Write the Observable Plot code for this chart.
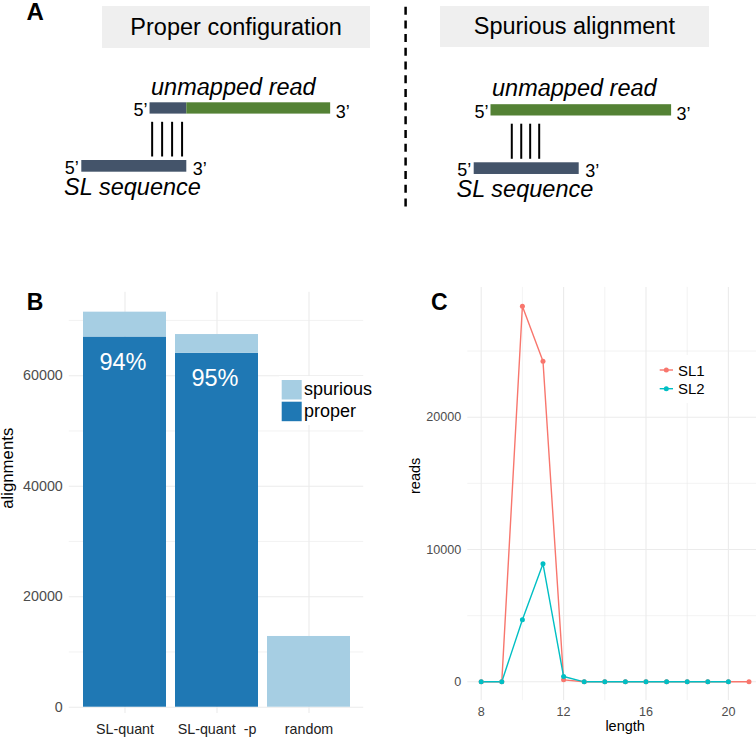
<!DOCTYPE html>
<html><head><meta charset="utf-8">
<script src="https://cdn.jsdelivr.net/npm/d3@7"></script>
<script src="https://cdn.jsdelivr.net/npm/@observablehq/plot@0.6"></script>
<style>
body{margin:0;background:#fff;}
#fig{position:relative;width:756px;height:737px;overflow:hidden;font-family:"Liberation Sans",Arial,Helvetica,sans-serif;background:#fff}
.abs{position:absolute}
.hdr{position:absolute;background:#efefef;display:flex;align-items:center;justify-content:center;font-size:23.5px;color:#000;white-space:nowrap}
</style></head>
<body><div id="fig"></div>
<script>
// ---------- Panel A: schematic (positions in SL-sequence units, SL = 0..10) ----------
const configTitles = ["Proper configuration", "Spurious alignment"];
const slLength = 10;
const readStart = [6.5, 1.6];
const readSLPartEnd = [10, null];
const readEnd = [23.7, 18.8];
const pairingProper = [6.7, 7.65, 8.6, 9.55];
const pairingSpurious = [3.58, 4.48, 5.33, 6.19];

// ---------- Panel B ----------
const methods = ["SL-quant", "SL-quant\u00a0\u00a0-p", "random"];
const properCounts = [67000, 64070, 0];
const spuriousCounts = [4500, 3380, 12800];
const alignTypes = ["spurious", "proper"];
const bTicks = [0, 20000, 40000, 60000];
const bMinor = [10000, 30000, 50000, 70000];

// ---------- Panel C ----------
const sl1Lengths = [8, 9, 10, 11, 12, 13, 14, 15, 16, 17, 18, 19, 20, 21];
const sl1Reads = [0, 0, 28390, 24230, 150, 0, 0, 0, 0, 0, 0, 0, 0, 0];
const sl2Lengths = [8, 9, 10, 11, 12, 13, 14, 15, 16, 17, 18, 19, 20];
const sl2Reads = [0, 0, 4690, 8920, 400, 0, 0, 0, 0, 0, 0, 0, 0];
const seriesNames = ["SL1", "SL2"];
const cYTicks = [0, 10000, 20000];
const cYMinor = [5000, 15000, 25000];
const cXTicks = [8, 12, 16, 20];
const cXMinor = [10, 14, 18];

const FONT = '"Liberation Sans", Arial, Helvetica, sans-serif';
const SLATE = "#44546a", GREEN = "#548235";
const fig = document.getElementById("fig");

function place(node, left, top) {
  const d = document.createElement("div");
  d.className = "abs";
  d.style.left = left + "px"; d.style.top = top + "px";
  d.appendChild(node);
  fig.appendChild(d);
  return d;
}

// ---------- Panel A ----------
const hdrBoxes = [[102.3, 6, 267.7, 42.3], [439.7, 6, 269.3, 41]];
configTitles.forEach((t, i) => {
  const h = document.createElement("div");
  h.className = "hdr";
  const [l, tp, w, ht] = hdrBoxes[i];
  h.style.left = l + "px"; h.style.top = tp + "px"; h.style.width = w + "px"; h.style.height = ht + "px";
  h.textContent = t;
  fig.appendChild(h);
});

function schematic(i) {
  const unit = 10.5;
  const slPx = [81.3, 95.7][i];
  const off = [0, 1.9][i];
  const x0 = -slPx / unit;
  const segs = [];
  if (readSLPartEnd[i] != null) {
    segs.push({start: readStart[i], end: readSLPartEnd[i], kind: "sl"});
    segs.push({start: readSLPartEnd[i], end: readEnd[i], kind: "read"});
  } else {
    segs.push({start: readStart[i], end: readEnd[i], kind: "read"});
  }
  const pairs = i === 0 ? pairingProper : pairingSpurious;
  const rt = 102.3 + off, rb = 113.6 + off;
  const st = 160 + off * 1.2, sb = 171.7 + off * 1.2;
  const sl = [{start: 0, end: slLength}];
  return Plot.plot({
    width: 378, height: 210, margin: 0,
    style: {fontFamily: FONT, overflow: "visible", background: "transparent"},
    x: {domain: [x0, x0 + 378 / unit], axis: null},
    y: {domain: [210, 0], axis: null},
    marks: [
      Plot.rect(segs, {x1: "start", x2: "end", y1: () => rt, y2: () => rb, fill: d => d.kind === "sl" ? SLATE : GREEN}),
      Plot.rect(sl, {x1: "start", x2: "end", y1: () => st, y2: () => sb, fill: SLATE}),
      Plot.ruleX(pairs, {x: d => d, y1: () => rb + 8.2, y2: () => st - 3.5, stroke: "#000", strokeWidth: 2}),
      Plot.text([readStart[i]], {x: d => d, y: () => rb + 2, text: () => "5\u2019", textAnchor: "end", dx: -2.5, lineAnchor: "bottom", fontSize: 18, fill: "#000"}),
      Plot.text([readEnd[i]], {x: d => d, y: () => rb + 4, text: () => "3\u2019", textAnchor: "start", dx: 5, lineAnchor: "bottom", fontSize: 18, fill: "#000"}),
      Plot.text(sl, {x: "start", y: () => sb + 1.5, text: () => "5\u2019", textAnchor: "end", dx: -3, lineAnchor: "bottom", fontSize: 18, fill: "#000"}),
      Plot.text(sl, {x: "end", y: () => sb + 3, text: () => "3\u2019", textAnchor: "start", dx: 6, lineAnchor: "bottom", fontSize: 18, fill: "#000"}),
      Plot.text([readStart[i]], {x: d => d, y: () => 94 + off, text: () => "unmapped read", textAnchor: "start", dx: 1, lineAnchor: "bottom", fontSize: 23.5, fontStyle: "italic", fill: "#000"}),
      Plot.text(sl, {x: "start", y: () => 194.5 + off, text: () => "SL sequence", textAnchor: "start", dx: -17.7, lineAnchor: "bottom", fontSize: 23.5, fontStyle: "italic", fill: "#000"})
    ]
  });
}
place(schematic(0), 0, 0);
place(schematic(1), 378, 0);

// ---------- Panel B ----------
const bRows = methods.flatMap((m, i) => [
  {method: m, type: "proper", value: properCounts[i]},
  {method: m, type: "spurious", value: spuriousCounts[i]}
]);
const pctRows = methods.map((m, i) => ({method: m, proper: properCounts[i], pct: Math.round(100 * properCounts[i] / (properCounts[i] + spuriousCounts[i])) + "%"}))
  .filter(d => d.proper > 0);

const plotB = Plot.plot({
  width: 378, height: 457,
  marginLeft: 68.8, marginRight: 14.8, marginTop: 11.7, marginBottom: 24,
  style: {fontFamily: FONT, overflow: "visible", background: "transparent"},
  x: {domain: methods, paddingInner: 0.1, paddingOuter: 0.15, axis: null},
  y: {domain: [-1140, 75113], axis: null},
  color: {domain: alignTypes, range: ["#a6cee3", "#1f78b4"]},
  marks: [
    Plot.ruleY(bMinor, {stroke: "#ebebeb", strokeWidth: 0.6}),
    Plot.ruleY(bTicks, {stroke: "#ebebeb", strokeWidth: 1.1}),
    Plot.ruleX(methods, {x: d => d, stroke: "#ebebeb", strokeWidth: 1.1}),
    Plot.barY(bRows, {x: "method", y: "value", fill: "type"}),
    Plot.text(pctRows, {x: "method", y: "proper", text: "pct", dy: 25.5, dx: -2, lineAnchor: "middle", fill: "white", fontSize: 23.5}),
    Plot.axisY({ticks: bTicks, tickSize: 0, tickPadding: 6.5, fontSize: 14.3, tickFormat: "d", color: "#4d4d4d", label: null}),
    Plot.axisX({tickSize: 0, tickPadding: 10.8, fontSize: 14.3, color: "#222", label: null}),
    Plot.text(["alignments"], {frameAnchor: "left", rotate: -90, dx: -61.3, dy: 6, fontSize: 16.8, fill: "#000", text: d => d})
  ]
});
place(plotB, 0, 280);

// ---------- Panel C ----------
const cRows = [
  ...sl1Lengths.map((l, i) => ({series: seriesNames[0], length: l, reads: sl1Reads[i]})),
  ...sl2Lengths.map((l, i) => ({series: seriesNames[1], length: l, reads: sl2Reads[i]}))
];
const plotC = Plot.plot({
  width: 378, height: 457,
  marginLeft: 89.3, marginRight: 0, marginTop: 6.9, marginBottom: 36.9,
  style: {fontFamily: FONT, overflow: "visible", background: "transparent"},
  x: {domain: [7.35, 21.364], axis: null},
  y: {domain: [-1420, 29810], axis: null},
  color: {domain: seriesNames, range: ["#F8766D", "#00BFC4"]},
  marks: [
    Plot.ruleY(cYMinor, {stroke: "#ebebeb", strokeWidth: 0.6}),
    Plot.ruleX(cXMinor, {stroke: "#ebebeb", strokeWidth: 0.6}),
    Plot.ruleY(cYTicks, {stroke: "#ebebeb", strokeWidth: 1.1}),
    Plot.ruleX(cXTicks, {stroke: "#ebebeb", strokeWidth: 1.1}),
    Plot.line(cRows, {x: "length", y: "reads", stroke: "series", z: "series", strokeWidth: 1.4}),
    Plot.dot(cRows, {x: "length", y: "reads", fill: "series", r: 2.5}),
    Plot.axisY({ticks: cYTicks, tickSize: 0, tickPadding: 6.6, fontSize: 12.6, tickFormat: "d", color: "#4d4d4d", label: null}),
    Plot.axisX({ticks: cXTicks, tickSize: 0, tickPadding: 6.2, fontSize: 12.6, tickFormat: "d", color: "#4d4d4d", label: null}),
    Plot.text(["reads"], {frameAnchor: "left", rotate: -90, dx: -52.1, fontSize: 14.5, fill: "#000", text: d => d}),
    Plot.text(["length"], {frameAnchor: "bottom", dx: 13, dy: 25.9, lineAnchor: "middle", fontSize: 14.5, fill: "#000", text: d => d})
  ]
});
place(plotC, 378, 280);

// ---------- Overlay: divider, panel letters, legends ----------
const ov = d3.create("svg").attr("width", 756).attr("height", 737)
  .style("position", "absolute").style("left", "0px").style("top", "0px")
  .style("font-family", FONT);
ov.append("line").attr("x1", 405.6).attr("x2", 405.6).attr("y1", 6.7).attr("y2", 207)
  .attr("stroke", "#000").attr("stroke-width", 2.5).attr("stroke-dasharray", "8,5.7");
[["A", 26.5, 20, 24], ["B", 26.7, 310, 23], ["C", 431, 310, 23]].forEach(([t, x, y, s]) =>
  ov.append("text").attr("x", x).attr("y", y).attr("font-size", s).attr("font-weight", "bold").attr("fill", "#000").text(t));

// legend B
const lgB = ov.append("g");
lgB.append("rect").attr("x", 279).attr("y", 376).attr("width", 98).attr("height", 49).attr("fill", "#fff");
const bKeyY = [380, 401.7];
alignTypes.forEach((t, i) => {
  lgB.append("rect").attr("x", 281.7).attr("y", bKeyY[i]).attr("width", 20).attr("height", 19.5)
    .attr("fill", t === "spurious" ? "#a6cee3" : "#1f78b4");
  lgB.append("text").attr("x", 304).attr("y", bKeyY[i] + 15.2).attr("font-size", 18).attr("fill", "#000").text(t);
});

// legend C
const lgC = ov.append("g");
lgC.append("rect").attr("x", 651).attr("y", 355).attr("width", 55).attr("height", 48).attr("fill", "#fff");
const cKeyY = [370, 388.7];
const cCols = ["#F8766D", "#00BFC4"];
seriesNames.forEach((s, i) => {
  lgC.append("line").attr("x1", 659.7).attr("x2", 673).attr("y1", cKeyY[i]).attr("y2", cKeyY[i])
    .attr("stroke", cCols[i]).attr("stroke-width", 1.4);
  lgC.append("circle").attr("cx", 666.3).attr("cy", cKeyY[i]).attr("r", 2.5).attr("fill", cCols[i]);
  lgC.append("text").attr("x", 678).attr("y", cKeyY[i] + 5.5).attr("font-size", 15).attr("fill", "#000").text(s);
});
fig.appendChild(ov.node());
</script>
</body></html>
